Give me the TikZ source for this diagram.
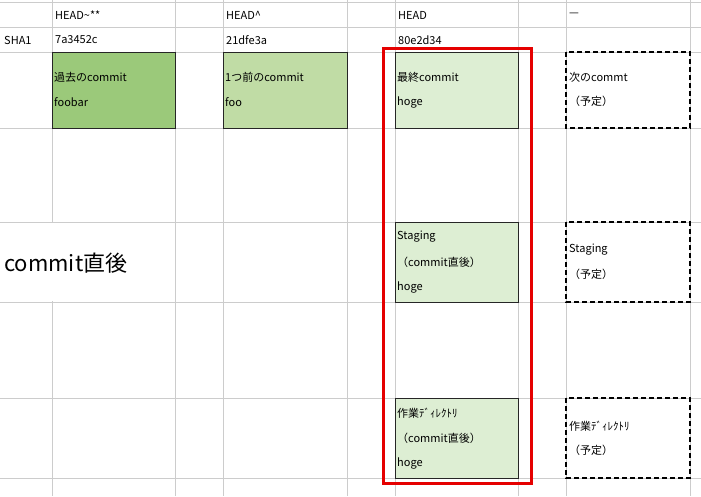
\documentclass[tikz,border=0pt]{standalone}
\usepackage{fontspec}
\setmainfont{Noto Sans CJK JP}
\begin{document}
\begin{tikzpicture}[x=1pt,y=-1pt,
  grid/.style={draw=black!20,line width=0.8pt},
  cell/.style={anchor=west,inner sep=0pt,font=\fontsize{11}{13}\selectfont},
  commitbox/.style={draw=black!85,line width=0.8pt},
  planbox/.style={draw=black,dashed,line width=1.3pt,dash pattern=on 5pt off 3pt}]
\useasboundingbox (0,0) rectangle (701,496);
\fill[white] (0,0) rectangle (701,496);
% grid
\foreach \x in {52,175,223,347,395,518,566,690} \draw[grid] (\x,0) -- (\x,496);
\foreach \y in {2,27,52,128,222,302,398,478} \draw[grid] (0,\y) -- (701,\y);
\fill[white] (1,223) rectangle (174,301);
\draw[grid] (175,222) -- (175,302);
% boxes
\draw[commitbox,fill={rgb,255:red,155;green,201;blue,122}] (52,52) rectangle (175,128);
\draw[commitbox,fill={rgb,255:red,192;green,220;blue,165}] (223,52) rectangle (347,128);
\draw[commitbox,fill={rgb,255:red,221;green,238;blue,211}] (395,52) rectangle (518,128);
\draw[commitbox,fill={rgb,255:red,221;green,238;blue,211}] (395,222) rectangle (518,302);
\draw[commitbox,fill={rgb,255:red,221;green,238;blue,211}] (395,398) rectangle (518,478);
\draw[planbox] (566,52) rectangle (690,128);
\draw[planbox] (566,222) rectangle (690,302);
\draw[planbox] (566,398) rectangle (690,478);
\draw[red!90!black,line width=3pt] (383,48) rectangle (531,483);
% headers
\node[cell] (h1) at (55,15) {HEAD\textasciitilde**};
\node[cell] (h2) at (226,15) {HEAD\textasciicircum};
\node[cell] (h3) at (398,15) {HEAD};
\node[cell] (h4) at (569,15) {---};
\node[cell] (s0) at (4,40) {SHA1};
\node[cell] (s1) at (55,40) {7a3452c};
\node[cell] (s2) at (226,40) {21dfe3a};
\node[cell] (s3) at (398,40) {80e2d34};
% box texts
\node[cell] (b1a) at (54,77) {過去のcommit};
\node[cell] (b1b) at (54,102) {foobar};
\node[cell] (b2a) at (225,77) {1つ前のcommit};
\node[cell] (b2b) at (225,102) {foo};
\node[cell] (b3a) at (397,77) {最終commit};
\node[cell] (b3b) at (397,102) {hoge};
\node[cell] (p1a) at (569,77) {次のcommt};
\node[cell] (p1b) at (569,101) {（予定）};
\node[cell] (c1) at (4,263) {\fontsize{22}{26}\selectfont commit直後};
\node[cell] (st1) at (397,237) {Staging};
\node[cell] (st2) at (397,262) {（commit直後）};
\node[cell] (st3) at (397,287) {hoge};
\node[cell] (p2a) at (569,250) {Staging};
\node[cell] (p2b) at (569,274) {（予定）};
\node[cell] (w1) at (397,413) {作業ﾃﾞｨﾚｸﾄﾘ};
\node[cell] (w2) at (397,438) {（commit直後）};
\node[cell] (w3) at (397,463) {hoge};
\node[cell] (p3a) at (569,426) {作業ﾃﾞｨﾚｸﾄﾘ};
\node[cell] (p3b) at (569,450) {（予定）};
\end{tikzpicture}
\end{document}
